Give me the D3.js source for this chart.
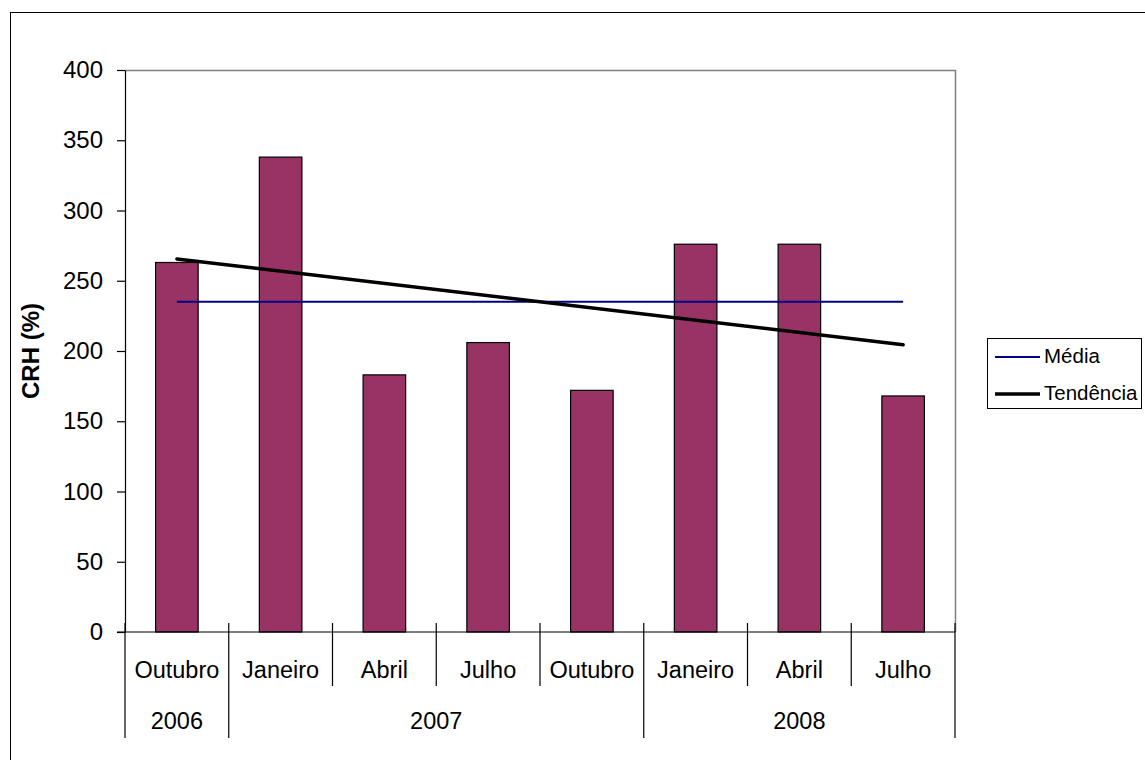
<!DOCTYPE html>
<html>
<head>
<meta charset="utf-8">
<script src="https://cdn.jsdelivr.net/npm/d3@7"></script>
<style>
  body { margin: 0; background: #fff; }
  text { font-family: "Liberation Sans", Arial, sans-serif; fill: #000; }
</style>
</head>
<body>
<div id="chart"></div>
<script>
// chart values
const months = ["Outubro", "Janeiro", "Abril", "Julho", "Outubro", "Janeiro", "Abril", "Julho"];
const years = ["2006", "2007", "2007", "2007", "2007", "2008", "2008", "2008"];
const crh = [263, 338, 183, 206, 172, 276, 276, 168];
const media = 235;
const tendencia = [265.5, 204.5]; // first and last category
const yTicks = [0, 50, 100, 150, 200, 250, 300, 350, 400];
const legendLabels = ["Média", "Tendência"];

const w = 1145, h = 760;
const plotLeft = 125, plotRight = 955, plotTop = 70, plotBottom = 632;

const svg = d3.select("#chart")
    .append("svg")
    .attr("width", w)
    .attr("height", h);

svg.append("rect")
    .attr("width", w).attr("height", h)
    .attr("fill", "#fff");

// outer frame (cut off at right / bottom)
svg.append("rect")
    .attr("x", 10.5).attr("y", 12.5)
    .attr("width", 1200).attr("height", 800)
    .attr("fill", "none")
    .attr("stroke", "#000");

const idx = crh.map((d, i) => i);

const x = d3.scaleBand()
    .domain(idx)
    .range([plotLeft, plotRight])
    .paddingInner(0)
    .paddingOuter(0);

const y = d3.scaleLinear()
    .domain([0, 400])
    .range([plotBottom, plotTop]);

// plot area border, top and right in grey
svg.append("path")
    .attr("d", `M${plotLeft},${plotTop + 0.5}H${plotRight + 0.5}V${plotBottom}`)
    .attr("fill", "none")
    .attr("stroke", "#808080")
    .attr("stroke-width", 1.5);

// bars
svg.selectAll(".bar")
    .data(crh)
    .enter()
    .append("rect")
    .attr("class", "bar")
    .attr("x", (d, i) => x(i) + x.bandwidth() * 0.295)
    .attr("width", x.bandwidth() * 0.41)
    .attr("y", (d) => y(d))
    .attr("height", (d) => y(0) - y(d))
    .attr("fill", "#993366")
    .attr("stroke", "#000")
    .attr("stroke-width", 1.2);

// média line
svg.append("line")
    .attr("x1", x(0) + x.bandwidth() / 2)
    .attr("x2", x(crh.length - 1) + x.bandwidth() / 2)
    .attr("y1", y(media))
    .attr("y2", y(media))
    .attr("stroke", "#000080")
    .attr("stroke-width", 2);

// tendência line
svg.append("line")
    .attr("x1", x(0) + x.bandwidth() / 2)
    .attr("x2", x(crh.length - 1) + x.bandwidth() / 2)
    .attr("y1", y(tendencia[0]))
    .attr("y2", y(tendencia[1]))
    .attr("stroke", "#000")
    .attr("stroke-width", 3.5)
    .attr("stroke-linecap", "round");

// y axis
const yAxis = svg.append("g")
    .attr("transform", `translate(${plotLeft},0)`)
    .call(d3.axisLeft(y).tickValues(yTicks).tickSize(8).tickPadding(14).tickSizeOuter(0));
yAxis.select(".domain").attr("stroke", "#000").attr("stroke-width", 1.2);
yAxis.selectAll(".tick line").attr("stroke", "#000").attr("stroke-width", 1.2);
yAxis.selectAll(".tick text")
    .attr("font-size", 24)
    .attr("font-family", "'Liberation Sans', Arial, sans-serif");

// x axis line
svg.append("line")
    .attr("x1", plotLeft - 8).attr("x2", plotRight)
    .attr("y1", plotBottom).attr("y2", plotBottom)
    .attr("stroke", "#000").attr("stroke-width", 1.2);

// category separators: long where the year changes
const bounds = d3.range(crh.length + 1);
svg.selectAll(".sep")
    .data(bounds)
    .enter()
    .append("line")
    .attr("class", "sep")
    .attr("x1", (i) => i < crh.length ? x(i) : plotRight)
    .attr("x2", (i) => i < crh.length ? x(i) : plotRight)
    .attr("y1", plotBottom - 9)
    .attr("y2", (i) => (i === 0 || i === crh.length || years[i] !== years[i - 1]) ? 738 : 686)
    .attr("stroke", "#000")
    .attr("stroke-width", 1.2);

// month labels
svg.selectAll(".month")
    .data(months)
    .enter()
    .append("text")
    .attr("class", "month")
    .attr("x", (d, i) => x(i) + x.bandwidth() / 2)
    .attr("y", 678)
    .attr("text-anchor", "middle")
    .attr("font-size", 23.5)
    .text((d) => d);

// year labels, centred on their group
const groups = d3.groups(idx, (i) => years[i]);
svg.selectAll(".year")
    .data(groups)
    .enter()
    .append("text")
    .attr("class", "year")
    .attr("x", (g) => (x(g[1][0]) + x(g[1][g[1].length - 1]) + x.bandwidth()) / 2)
    .attr("y", 729)
    .attr("text-anchor", "middle")
    .attr("font-size", 23.5)
    .text((g) => g[0]);

// y title
svg.append("text")
    .attr("transform", `translate(39,${(plotTop + plotBottom) / 2}) rotate(-90)`)
    .attr("text-anchor", "middle")
    .attr("font-size", 24)
    .attr("font-weight", "bold")
    .text("CRH (%)");

// legend
const lg = svg.append("g").attr("transform", "translate(987,338)");
lg.append("rect")
    .attr("x", 0.5).attr("y", 0.5)
    .attr("width", 154).attr("height", 70)
    .attr("fill", "#fff")
    .attr("stroke", "#000");
const legendStyles = [{ c: "#000080", w: 2 }, { c: "#000", w: 3.5 }];
legendLabels.forEach((t, i) => {
    const ly = 19 + i * 37;
    lg.append("line")
        .attr("x1", 8).attr("x2", 53)
        .attr("y1", ly).attr("y2", ly)
        .attr("stroke", legendStyles[i].c)
        .attr("stroke-width", legendStyles[i].w);
    lg.append("text")
        .attr("x", 57).attr("y", ly + 6)
        .attr("font-size", 20.5)
        .text(t);
});
</script>
</body>
</html>
